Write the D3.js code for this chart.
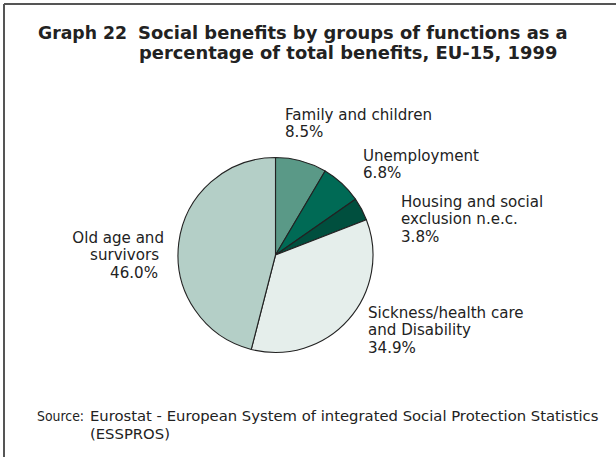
<!DOCTYPE html>
<html>
<head>
<meta charset="utf-8">
<script src="https://cdn.jsdelivr.net/npm/d3@7"></script>
<style>
  html, body { margin: 0; padding: 0; background: #fff; }
  svg { display: block; }
  text { font-family: "DejaVu Sans", sans-serif; fill: #222; }
</style>
</head>
<body>
<svg id="chart" width="616" height="457"></svg>
<script>
// Shares of total social benefits, EU-15, 1999 (clockwise from 12 o'clock)
const categories = [
  "Family and children",
  "Unemployment",
  "Housing and social exclusion n.e.c.",
  "Sickness/health care and Disability",
  "Old age and survivors"
];
const values = [8.5, 6.8, 3.8, 34.9, 46.0];
const labelLines = [
  ["Family and children"],
  ["Unemployment"],
  ["Housing and social", "exclusion n.e.c."],
  ["Sickness/health care", "and Disability"],
  ["Old age and", "survivors"]
];
const colors = ["#5a9987", "#006a55", "#004f3e", "#e5eeeb", "#b4cfc7"];

const svg = d3.select("#chart");

// scale a text's font so that it spans the given width
function fitWidth(sel, width) {
  const base = 16;
  sel.attr("font-size", base);
  const w = sel.node().getComputedTextLength();
  const size = base * width / w;
  sel.attr("font-size", size);
  return size;
}

// frame: top and left rules
svg.append("line").attr("x1", 4).attr("x2", 616).attr("y1", 4).attr("y2", 4)
  .attr("stroke", "#555").attr("stroke-width", 2);
svg.append("line").attr("x1", 4).attr("x2", 4).attr("y1", 4).attr("y2", 457)
  .attr("stroke", "#555").attr("stroke-width", 2);

// title with hanging indent
const title = svg.append("g").attr("font-weight", "bold");
const t1 = title.append("text").attr("x", 138).attr("y", 39)
  .text("Social benefits by groups of functions as a");
const titleSize = fitWidth(t1, 430);
const t0 = title.append("text").attr("x", 38).attr("y", 39).text("Graph 22");
fitWidth(t0, 89);
title.append("text").attr("x", 139).attr("y", 59).attr("font-size", titleSize)
  .text("percentage of total benefits, EU-15, 1999");

// pie
const cx = 275.5, cy = 255, r = 97.5;
const pie = d3.pie().sort(null).value(d => d)(values);
const arc = d3.arc().innerRadius(0).outerRadius(r);
const g = svg.append("g").attr("transform", `translate(${cx},${cy})`);
g.selectAll("path").data(pie).join("path")
  .attr("d", arc)
  .attr("fill", (d, i) => colors[i])
  .attr("stroke", "#222")
  .attr("stroke-width", 1.1)
  .attr("stroke-linejoin", "round");

// slice labels: label size taken from the first label's span
const probe = svg.append("text").text(labelLines[0][0]);
const labelSize = fitWidth(probe, 147);
probe.remove();

const labelPos = [
  { x: [285, 285], y: 120, anchor: "start" },
  { x: [363, 363], y: 161, anchor: "start" },
  { x: [401, 401, 401], y: 207, anchor: "start" },
  { x: [368, 368, 368], y: 318, anchor: "start" },
  { x: [164, 159, 158], y: 243, anchor: "end" }
];
const lh = 17.3;
labelLines.forEach((lines, i) => {
  const p = labelPos[i];
  lines.concat([values[i].toFixed(1) + "%"]).forEach((s, k) => {
    svg.append("text")
      .attr("font-size", labelSize)
      .attr("text-anchor", p.anchor)
      .attr("x", p.x[k]).attr("y", p.y + k * lh)
      .text(s);
  });
});

// source note
const src = svg.append("g");
const s1 = src.append("text").attr("x", 90).attr("y", 421)
  .text("Eurostat - European System of integrated Social Protection Statistics");
const srcSize = fitWidth(s1, 509);
src.append("text").attr("x", 37).attr("y", 421).attr("font-size", srcSize)
  .attr("textLength", 47).attr("lengthAdjust", "spacingAndGlyphs")
  .text("Source:");
src.append("text").attr("x", 90).attr("y", 438.5).attr("font-size", srcSize).text("(ESSPROS)");
</script>
</body>
</html>
